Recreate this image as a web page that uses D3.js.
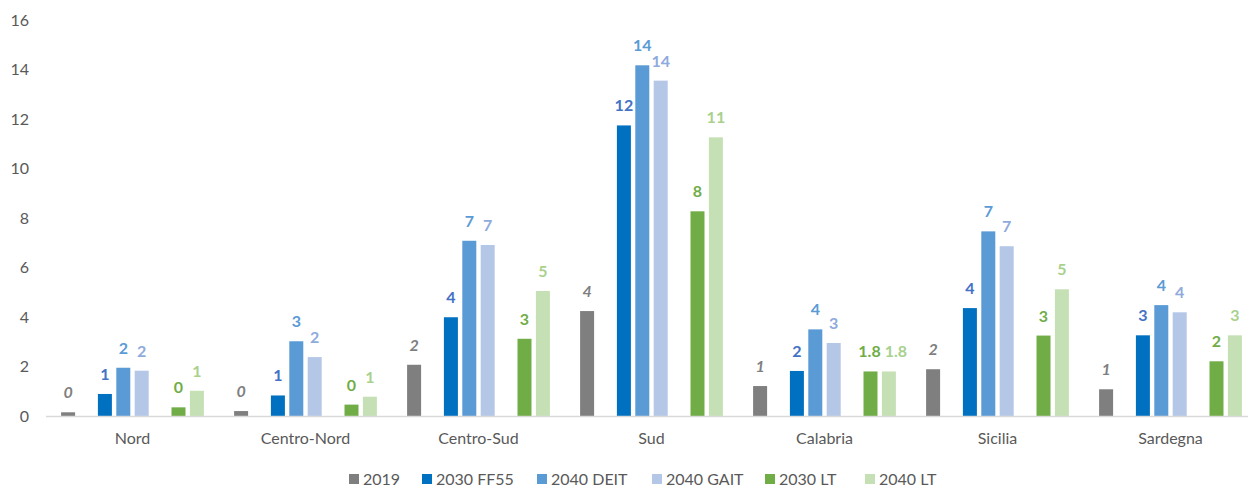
<!DOCTYPE html>
<html>
<head>
<meta charset="utf-8">
<script src="https://cdn.jsdelivr.net/npm/d3@7"></script>
<style>
  html, body { margin: 0; padding: 0; background: #fff; }
  svg { display: block; font-family: Lato, "Open Sans", sans-serif; }
</style>
</head>
<body>
<svg id="chart" width="1248" height="487"></svg>
<script>
const categories = ["Nord", "Centro-Nord", "Centro-Sud", "Sud", "Calabria", "Sicilia", "Sardegna"];
const seriesNames = ["2019", "2030 FF55", "2040 DEIT", "2040 GAIT", "2030 LT", "2040 LT"];
const yTicks = [0, 2, 4, 6, 8, 10, 12, 14, 16];

const v2019 = [0.15, 0.20, 2.07, 4.24, 1.21, 1.89, 1.08];
const vFF55 = [0.89, 0.83, 3.99, 11.74, 1.82, 4.36, 3.26];
const vDEIT = [1.95, 3.02, 7.08, 14.17, 3.50, 7.46, 4.48];
const vGAIT = [1.83, 2.38, 6.91, 13.55, 2.95, 6.86, 4.19];
const vLT30 = [0.35, 0.46, 3.12, 8.27, 1.80, 3.25, 2.21];
const vLT40 = [1.02, 0.78, 5.05, 11.26, 1.80, 5.12, 3.26];

const l2019 = ["0", "0", "2", "4", "1", "2", "1"];
const lFF55 = ["1", "1", "4", "12", "2", "4", "3"];
const lDEIT = ["2", "3", "7", "14", "4", "7", "4"];
const lGAIT = ["2", "2", "7", "14", "3", "7", "4"];
const lLT30 = ["0", "0", "3", "8", "1.8", "3", "2"];
const lLT40 = ["1", "1", "5", "11", "1.8", "5", "3"];

const seriesValues = [v2019, vFF55, vDEIT, vGAIT, vLT30, vLT40];
const seriesLabels = [l2019, lFF55, lDEIT, lGAIT, lLT30, lLT40];
const barColors = ["#7f7f7f", "#0070c0", "#5b9bd5", "#b4c7e7", "#70ad47", "#c5e0b4"];
const labelColors = ["#7f7f7f", "#4472c4", "#5b9bd5", "#8faadc", "#70ad47", "#a9d18e"];
const slotIndex = [0, 2, 3, 4, 6, 7];

const svg = d3.select("#chart");
const y0px = 416, y16px = 20;
const step = 173;
const x0 = d3.scaleBand().domain(categories).range([46, 46 + categories.length * step]).padding(0);
const x1 = d3.scaleBand().domain(d3.range(8)).range([12.9, 12.9 + 8 * 18.4]).padding(0);
const y = d3.scaleLinear().domain([0, 16]).range([y0px, y16px]);
const barW = 14;

// y axis labels
svg.append("g").selectAll("text").data(yTicks).join("text")
  .attr("x", 29).attr("y", d => y(d)).attr("dy", "0.35em")
  .attr("text-anchor", "end").attr("font-size", 16).attr("fill", "#595959")
  .text(d => d);

// bars
seriesValues.forEach((vals, si) => {
  const g = svg.append("g");
  g.selectAll("rect").data(vals).join("rect")
    .attr("x", (d, i) => x0(categories[i]) + x1(slotIndex[si]) + (x1.bandwidth() - barW) / 2)
    .attr("y", d => y(d))
    .attr("width", barW)
    .attr("height", d => y(0) - y(d))
    .attr("fill", barColors[si]);
  g.selectAll("text").data(vals).join("text")
    .attr("x", (d, i) => x0(categories[i]) + x1(slotIndex[si]) + x1.bandwidth() / 2)
    .attr("dx", (d, i) => (seriesLabels[si][i].length > 2 ? (si === 5 ? 7 : -1) : 0))
    .attr("y", d => y(d) - 14)
    .attr("text-anchor", "middle")
    .attr("font-size", 16)
    .attr("font-weight", "bold")
    .attr("font-style", si === 0 ? "italic" : "normal")
    .attr("fill", labelColors[si])
    .text((d, i) => seriesLabels[si][i]);
});

// x axis line
svg.append("line").attr("x1", 46).attr("x2", 1248).attr("y1", y0px + 0.5).attr("y2", y0px + 0.5)
  .attr("stroke", "#d9d9d9").attr("stroke-width", 1.5);

// category labels
svg.append("g").selectAll("text").data(categories).join("text")
  .attr("x", d => x0(d) + x1(0) + (8 * 18.4) / 2)
  .attr("y", 444)
  .attr("text-anchor", "middle").attr("font-size", 16).attr("fill", "#595959")
  .text(d => d);

// legend
const legendX = [349, 422, 537, 652, 765, 865];
const lg = svg.append("g");
seriesNames.forEach((name, i) => {
  lg.append("rect").attr("x", legendX[i]).attr("y", 474).attr("width", 10).attr("height", 10).attr("fill", barColors[i]);
  lg.append("text").attr("x", legendX[i] + 14).attr("y", 479).attr("dy", "0.35em")
    .attr("font-size", 16).attr("fill", "#595959").text(name);
});
</script>
</body>
</html>
